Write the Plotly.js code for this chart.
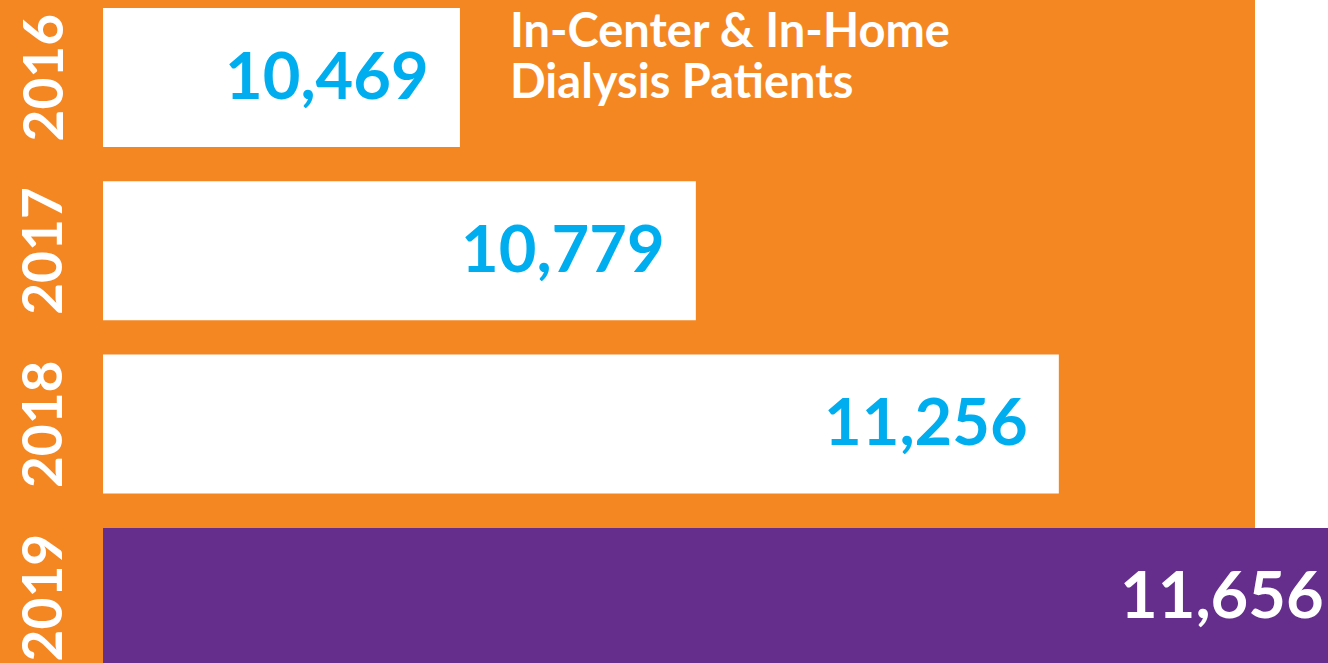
<!DOCTYPE html>
<html>
<head>
<meta charset="utf-8">
<script src="https://cdn.plot.ly/plotly-3.0.1.min.js"></script>
<style>html,body{margin:0;padding:0;background:#fff;}#chart{width:1328px;height:663px;}</style>
</head>
<body>
<div id="chart"></div>
<script>
// ---- data ----
const years = ["2016", "2017", "2018", "2019"];
const patients = [10469, 10779, 11256, 11656];
const valueLabels = ["10,469", "10,779", "11,256", "11,656"];
const titleLines = ["In-Center & In-Home", "Dialysis Patients"];

// ---- style ----
const ORANGE = "#F58722";
const PURPLE = "#652D8C";
const BLUE = "#00AEEF";
const WHITE = "#FFFFFF";
const FONT = "Lato";
const BASE = 10000;
const X_RANGE = [9864.6, 11609.7];
const Y_RANGE = [3.3785, -0.4472];
const W = 1328, H = 663;

const barColors = years.map((y, i) => i === years.length - 1 ? PURPLE : WHITE);
const labelColors = years.map((y, i) => i === years.length - 1 ? WHITE : BLUE);

const trace = {
  type: "bar",
  orientation: "h",
  y: years.map((y, i) => i),
  x: patients.map(v => v - BASE),
  base: BASE,
  marker: {color: barColors, line: {width: 0}},
  hoverinfo: "skip",
  showlegend: false
};

const annotations = [];
// value labels
patients.forEach((v, i) => {
  const clipped = v > X_RANGE[1];
  annotations.push({
    text: valueLabels[i],
    xref: clipped ? "paper" : "x",
    x: clipped ? 1 : v,
    xanchor: "right",
    xshift: clipped ? -2 : -29,
    yref: "y",
    y: i,
    yanchor: "middle",
    yshift: 4,
    showarrow: false,
    font: {family: FONT, size: 65, color: labelColors[i], weight: 700}
  });
});
// year labels (rotated)
years.forEach((yr, i) => {
  annotations.push({
    text: yr,
    xref: "paper",
    x: 41 / W,
    xanchor: "center",
    yref: "y",
    y: i,
    yanchor: "middle",
    textangle: -90,
    showarrow: false,
    font: {family: FONT, size: 55, color: WHITE, weight: 700}
  });
});
// chart title, one annotation per line
const titleTops = [0, 51];
titleLines.forEach((t, i) => {
  annotations.push({
    text: t,
    xref: "paper",
    x: 509 / W,
    xanchor: "left",
    yref: "paper",
    y: 1 - titleTops[i] / H,
    yanchor: "top",
    borderpad: 0,
    showarrow: false,
    font: {family: FONT, size: 47, color: WHITE, weight: 700}
  });
});

const layout = {
  width: W,
  height: H,
  margin: {l: 0, r: 0, t: 0, b: 0, pad: 0},
  paper_bgcolor: WHITE,
  plot_bgcolor: "rgba(0,0,0,0)",
  bargap: 0.198,
  xaxis: {range: X_RANGE, showgrid: false, zeroline: false, showticklabels: false, showline: false, ticks: ""},
  yaxis: {range: Y_RANGE, showgrid: false, zeroline: false, showticklabels: false, showline: false, ticks: ""},
  shapes: [{
    type: "rect", xref: "paper", yref: "paper",
    x0: 0, x1: 1255 / W, y0: 0, y1: 1,
    fillcolor: ORANGE, line: {width: 0}, layer: "below"
  }],
  annotations: annotations
};

Plotly.newPlot("chart", [trace], layout, {displayModeBar: false, staticPlot: true});
</script>
</body>
</html>
